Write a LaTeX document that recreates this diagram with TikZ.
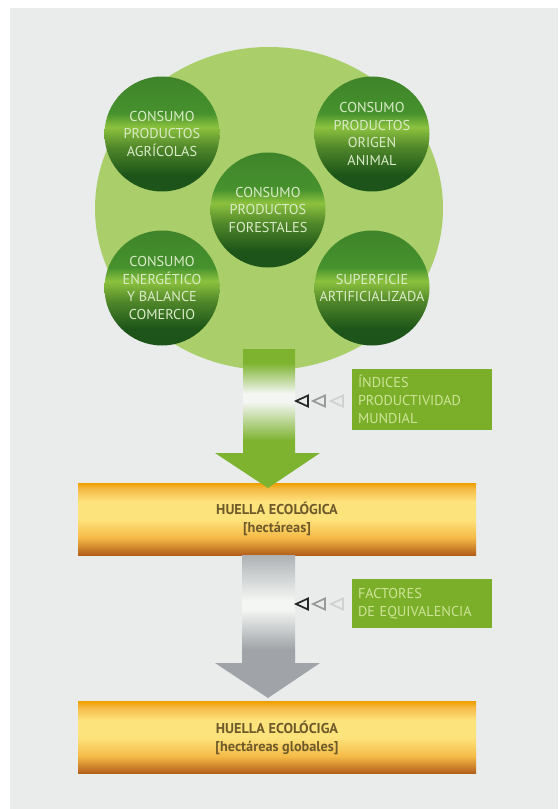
\documentclass[tikz,border=0pt]{standalone}
\usepackage{fontspec}
\setmainfont{PT Sans}

\definecolor{panelgray}{RGB}{233,236,235}
\definecolor{biggreen}{RGB}{170,207,106}
\definecolor{balltop}{RGB}{70,146,46}
\definecolor{ballband}{RGB}{140,194,62}
\definecolor{ballbottom}{RGB}{28,84,25}
\definecolor{balltext}{RGB}{218,235,200}
\definecolor{arrowgreen}{RGB}{125,179,47}
\definecolor{arrowgray}{RGB}{160,164,168}
\definecolor{fadewhite}{RGB}{244,246,243}
\definecolor{labelgreen}{RGB}{123,175,42}
\definecolor{labeltext}{RGB}{205,228,150}
\definecolor{orangeedge}{RGB}{239,160,0}
\definecolor{orangelight}{RGB}{253,227,124}
\definecolor{orangemid}{RGB}{245,186,70}
\definecolor{orangedark}{RGB}{178,94,26}
\definecolor{hueltext}{RGB}{110,90,42}

\pgfdeclareverticalshading{ballshade}{100bp}{color(0bp)=(ballbottom); color(25bp)=(ballbottom); color(32bp)=(ballbottom); color(44bp)=(ballbottom!55!ballband); color(53bp)=(ballband); color(59bp)=(balltop); color(75bp)=(balltop!90!black); color(100bp)=(balltop!90!black)}
\pgfdeclareverticalshading{greenarrowshade}{100bp}{color(0bp)=(arrowgreen); color(42bp)=(arrowgreen); color(56bp)=(fadewhite); color(59bp)=(fadewhite); color(70bp)=(arrowgreen); color(100bp)=(arrowgreen)}
\pgfdeclareverticalshading{grayarrowshade}{100bp}{color(0bp)=(arrowgray); color(42bp)=(arrowgray); color(56bp)=(fadewhite); color(59bp)=(fadewhite); color(75bp)=(arrowgray!85); color(100bp)=(arrowgray!85)}
\pgfdeclareverticalshading{orangeshade}{100bp}{color(0bp)=(orangedark); color(25bp)=(orangedark); color(37bp)=(orangemid); color(50bp)=(orangelight); color(62bp)=(orangelight); color(71bp)=(orangemid); color(75bp)=(orangeedge); color(100bp)=(orangeedge)}

\tikzset{every picture/.style={line width=0.75pt}}

\begin{document}
\begin{tikzpicture}[x=0.75pt,y=0.75pt,yscale=-1,xscale=1,
  ball/.style={circle,draw=none,minimum size=86.25pt,inner sep=0pt,shading=ballshade,text=balltext,align=center,font=\fontsize{10.7}{13.3}\selectfont},
  huellabox/.style={rectangle,draw=none,minimum width=298.5pt,minimum height=54pt,inner sep=0pt,shading=orangeshade,text=hueltext,align=center,font=\fontsize{10.7}{13.5}\selectfont\bfseries},
  labelbox/.style={rectangle,draw=none,fill=labelgreen,minimum width=105pt,inner xsep=4.5pt,text width=96pt,align=left,text=labeltext,font=\fontsize{10.7}{13.3}\selectfont},
  marker/.style={line width=1.3pt,line join=miter}]
\path (0,809); %picture height 809

%Shape: Rectangle [panel]
\fill [white] (0,0) rectangle (558,809) ;
\fill [panelgray] (10,8) rectangle (558,809) ;

%Shape: Ellipse [big circle]
\fill [biggreen] (269,208.5) ellipse [x radius=174, y radius=161.5] ;

%Shape: Circles
\node [ball] (agricolas) at (162,134) {CONSUMO\\PRODUCTOS\\AGRÍCOLAS};
\node [ball] (animal) at (372,134) {CONSUMO\\PRODUCTOS\\ORIGEN\\ANIMAL};
\node [ball] (forestales) at (268,210) {CONSUMO\\PRODUCTOS\\FORESTALES};
\node [ball] (energetico) at (162,288) {CONSUMO\\ENERGÉTICO\\Y BALANCE\\COMERCIO};
\node [ball] (superficie) at (372,288) {SUPERFICIE\\ARTIFICIALIZADA};

%Shape: Rectangles [huella]
\node [huellabox] (hectareas) at (277,519) {HUELLA ECOLÓGICA\\{[hectáreas]}};
\node [huellabox] (globales) at (277,737.5) {HUELLA ECOLÓCIGA\\{[hectáreas globales]}};

%Shape: Arrows
\shade [shading=greenarrowshade] (243,349) -- (295,349) -- (295,453) -- (320,453) -- (268,488) -- (215,453) -- (243,453) -- cycle ;
\shade [shading=grayarrowshade] (242,555) -- (295,555) -- (295,663) -- (320,663) -- (268,698) -- (215,663) -- (242,663) -- cycle ;

%Shape: Rectangles [labels]
\node [labelbox,minimum height=45.75pt] (indices) at (422,399.5) {ÍNDICES\\PRODUCTIVIDAD\\MUNDIAL};
\node [labelbox,minimum height=36.75pt] (factores) at (422,603.5) {FACTORES\\DE EQUIVALENCIA};

%Shape: Triangles
\foreach \ypos in {401,604}{
  \foreach \xpos/\col in {296/black!85,313/black!40,331/black!18}{
    \draw [marker,draw=\col] (\xpos,\ypos) -- (\xpos+12,\ypos-5.5) -- (\xpos+12,\ypos+5.5) -- cycle ;
  }
}

\end{tikzpicture}
\end{document}
